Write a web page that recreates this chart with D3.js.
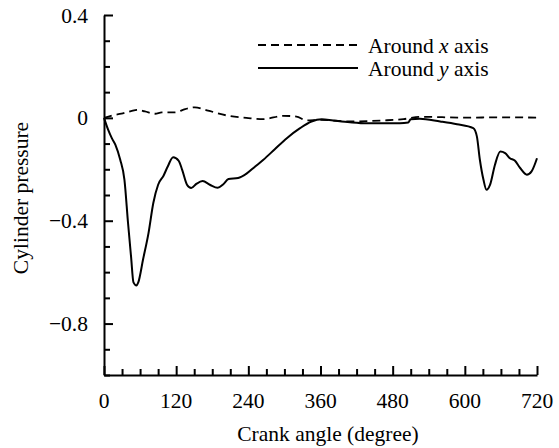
<!DOCTYPE html>
<html>
<head>
<meta charset="utf-8">
<script src="https://cdn.jsdelivr.net/npm/d3@7"></script>
<style>
  html, body { margin: 0; padding: 0; background: #fff; overflow: hidden; }
  svg { display: block; }
</style>
</head>
<body>
<div id="chart-container"><svg><g></g></svg></div>
<script>
// Around x axis (dashed)
const xAxisAngle = [0, 15, 29, 45, 56, 68, 85, 96, 118, 135, 151, 173, 207, 240, 265, 298, 320, 337, 360, 409, 464, 498, 525, 600, 660, 720];
const xAxisValue = [0, 0.010, 0.016, 0.026, 0.031, 0.025, 0.016, 0.021, 0.021, 0.034, 0.041, 0.028, 0.008, -0.001, -0.005, 0.008, 0.005, -0.010, -0.008, -0.014, -0.010, -0.005, 0.004, 0.001, 0.002, 0.001];

// Around y axis (solid)
const yAxisAngle = [0, 7, 13, 19, 27, 34, 40, 45, 49, 54, 57, 65, 74, 82, 90, 99, 106, 115, 124, 130, 138, 145, 154, 164, 176, 189, 198, 207, 223, 237, 251, 265, 284, 304, 326, 345, 362, 381, 409, 437, 464, 492, 506, 510, 525, 559, 587, 614, 620, 625, 631, 636, 642, 650, 659, 667, 675, 683, 692, 703, 711, 720];
const yAxisValue = [0, -0.047, -0.079, -0.105, -0.163, -0.241, -0.410, -0.540, -0.640, -0.652, -0.640, -0.550, -0.448, -0.331, -0.260, -0.225, -0.189, -0.153, -0.166, -0.202, -0.260, -0.273, -0.256, -0.246, -0.260, -0.272, -0.259, -0.238, -0.234, -0.217, -0.190, -0.163, -0.122, -0.079, -0.040, -0.014, -0.005, -0.010, -0.017, -0.021, -0.021, -0.021, -0.018, -0.005, -0.003, -0.014, -0.025, -0.040, -0.072, -0.163, -0.241, -0.280, -0.260, -0.183, -0.131, -0.137, -0.157, -0.166, -0.195, -0.221, -0.208, -0.157];

const xMajorTicks = [0, 120, 240, 360, 480, 600, 720];
const yMajorTicks = [0.4, 0, -0.4, -0.8];
const yTickLabels = ["0.4", "0", "\u22120.4", "\u22120.8"];

const width = 559, height = 448;
const margin = { top: 15, right: 22, bottom: 73, left: 104 };
const innerWidth = width - margin.left - margin.right;
const innerHeight = height - margin.top - margin.bottom;
const serif = "'Liberation Serif', 'Times New Roman', serif";
const fontSize = "21.5px";

const xScale = d3.scaleLinear().domain([0, 720]).range([0, innerWidth]);
const yScale = d3.scaleLinear().domain([-1.0, 0.4]).range([innerHeight, 0]);

const svg = d3.select("#chart-container").select("svg").attr("width", width).attr("height", height)
    .select("g").attr("transform", `translate(${margin.left},${margin.top})`);

// X axis: minor ticks every 30, majors every 120, ticks pointing up
const xMinor = d3.range(0, 721, 30).filter(d => d % 120 !== 0);
svg.append("g").attr("class", "x-minor").attr("transform", `translate(0,${innerHeight})`)
    .call(d3.axisTop(xScale).tickValues(xMinor).tickSize(6).tickFormat(""))
    .call(g => g.select(".domain").remove());
svg.append("g").attr("class", "x-axis").attr("transform", `translate(0,${innerHeight})`)
    .call(d3.axisTop(xScale).tickValues(xMajorTicks).tickSize(9).tickSizeOuter(0).tickFormat(""));
svg.selectAll(".x-label").data(xMajorTicks).join("text").attr("class", "x-label")
    .attr("x", d => xScale(d)).attr("y", innerHeight + 25).attr("dy", "0.35em").attr("text-anchor", "middle")
    .style("font-family", serif).style("font-size", fontSize).text(d => d);

// Y axis: minor ticks every 0.1, pointing right
const yMinor = d3.range(-10, 5).map(d => d / 10).filter(d => Math.round(d * 10) % 4 !== 0);
svg.append("g").attr("class", "y-minor")
    .call(d3.axisRight(yScale).tickValues(yMinor).tickSize(6).tickFormat(""))
    .call(g => g.select(".domain").remove());
svg.append("g").attr("class", "y-axis")
    .call(d3.axisRight(yScale).tickValues(yMajorTicks).tickSize(9).tickSizeOuter(0).tickFormat(""));
svg.selectAll(".y-label").data(yMajorTicks).join("text").attr("class", "y-label")
    .attr("x", -16).attr("y", d => yScale(d)).attr("dy", "0.35em").attr("text-anchor", "end")
    .style("font-family", serif).style("font-size", fontSize).text((d, i) => yTickLabels[i]);

svg.selectAll(".domain, .tick line").attr("stroke", "#000").attr("stroke-width", 2);

// Axis titles
svg.append("text").attr("x", 328 - margin.left).attr("y", 441 - margin.top).attr("text-anchor", "middle")
    .style("font-family", serif).style("font-size", fontSize).text("Crank angle (degree)");
svg.append("text").attr("transform", `translate(${20 - margin.left},${198 - margin.top}) rotate(-90)`)
    .attr("dy", "0.35em").attr("text-anchor", "middle")
    .style("font-family", serif).style("font-size", fontSize).text("Cylinder pressure");

// Lines
const lineGenerator = d3.line().x(d => xScale(d[0])).y(d => yScale(d[1])).curve(d3.curveMonotoneX);
const xSeries = xAxisAngle.map((a, i) => [a, xAxisValue[i]]);
const ySeries = yAxisAngle.map((a, i) => [a, yAxisValue[i]]);

svg.append("path").attr("d", lineGenerator(xSeries)).attr("fill", "none")
    .attr("stroke", "#000").attr("stroke-width", 1.8).attr("stroke-dasharray", "8,5");
svg.append("path").attr("d", lineGenerator(ySeries)).attr("fill", "none")
    .attr("stroke", "#000").attr("stroke-width", 2).attr("stroke-linejoin", "round");

// Legend
const legendItems = [{ name: "x", dash: "8,5", y: 30 }, { name: "y", dash: null, y: 53 }];
const legend = svg.selectAll(".legend").data(legendItems).join("g").attr("class", "legend")
    .attr("transform", d => `translate(${258 - margin.left},${d.y})`);
legend.append("line").attr("x1", 0).attr("x2", 100).attr("stroke", "#000").attr("stroke-width", 1.8)
    .attr("stroke-dasharray", d => d.dash);
legend.append("text").attr("x", 110).attr("dy", "0.35em")
    .style("font-family", serif).style("font-size", fontSize)
    .each(function (d) {
        const t = d3.select(this);
        t.append("tspan").text("Around ");
        t.append("tspan").style("font-style", "italic").text(d.name);
        t.append("tspan").text(" axis");
    });
</script>
</body>
</html>
